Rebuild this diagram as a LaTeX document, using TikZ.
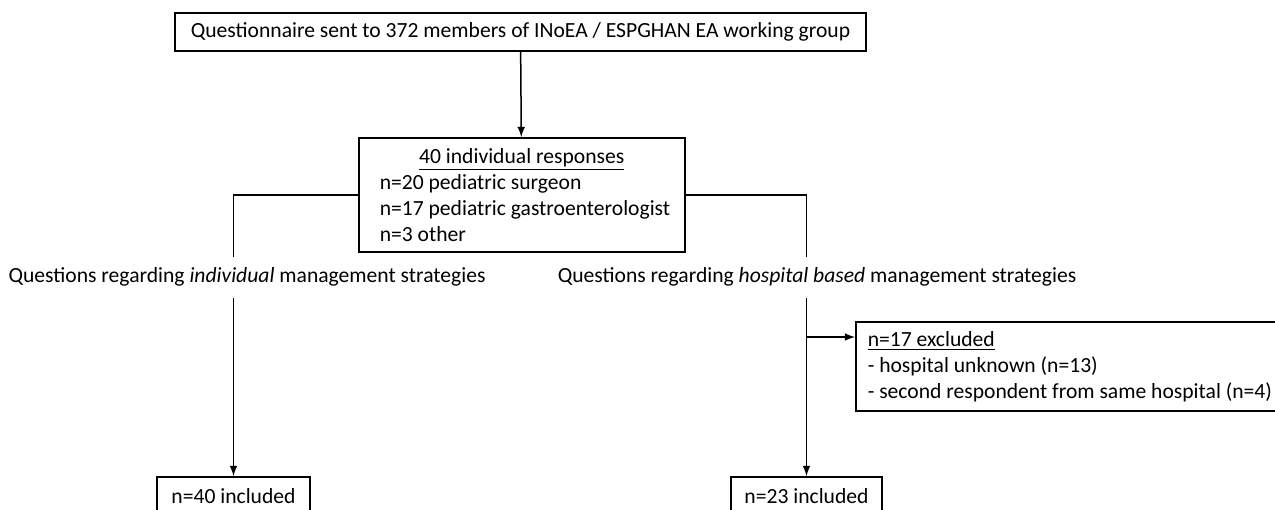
\documentclass[tikz,border=0pt]{standalone}
\usepackage{fontspec}
\setmainfont{Carlito}
\usetikzlibrary{arrows}

\begin{document}
\begin{tikzpicture}[x=0.5pt,y=-0.5pt,
  box/.style={draw,line width=0.75pt,inner sep=0pt,font=\fontsize{10.8}{13}\selectfont},
  lbl/.style={inner sep=0pt,font=\fontsize{10.8}{13}\selectfont},
  conn/.style={line width=0.75pt},
  >=latex]
  \clip (0,0) rectangle (1275,509);
  % boxes
  \node[box,minimum width=345.5pt,minimum height=19pt] (quest) at (520.5,32) {Questionnaire sent to 372 members of INoEA / ESPGHAN EA working group};
  \node[box,anchor=north west,minimum width=163pt,minimum height=57pt,text width=142pt,inner xsep=10.5pt,align=flush left] (resp) at (358,137)
    {\makebox[\linewidth]{\underline{40 individual responses}}\\ n=20 pediatric surgeon\\ \makebox[\linewidth][l]{n=17 pediatric gastroenterologist}\\ n=3 other};
  \node[lbl] (qind) at (247,277) {Questions regarding \textit{individual} management strategies};
  \node[lbl] (qhosp) at (817,277) {Questions regarding \textit{hospital based} management strategies};
  \node[box,anchor=north west,minimum width=225pt,minimum height=44.5pt,text width=213pt,align=flush left] (excl) at (855,321)
    {\underline{n=17 excluded}\\ - hospital unknown (n=13)\\ - second respondent from same hospital (n=4)};
  \node[box,anchor=north,minimum width=76.5pt,minimum height=19pt] (incind) at (233.5,476) {n=40 included};
  \node[box,anchor=north,minimum width=75.5pt,minimum height=19pt] (inchosp) at (806.5,476) {n=23 included};
  % connectors
  \coordinate (indtop) at (233.5,257);
  \coordinate (indbot) at (233.5,298);
  \coordinate (hosptop) at (806.5,257);
  \coordinate (hospbot) at (806.5,298);
  \coordinate (split) at (806.5,337);
  \draw[conn,->] (quest) -- (resp);
  \draw[conn] (resp.west) -| (indtop);
  \draw[conn] (resp.east) -| (hosptop);
  \draw[conn,->] (indbot) -- (incind);
  \draw[conn,->] (hospbot) -- (inchosp);
  \draw[conn,->] (split) -- (split -| excl.west);
\end{tikzpicture}
\end{document}
